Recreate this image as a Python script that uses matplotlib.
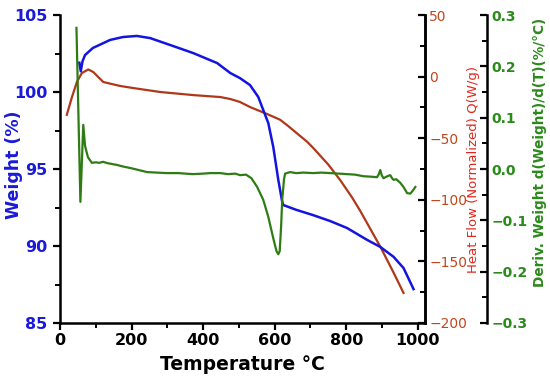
import matplotlib
matplotlib.use("Agg")
import matplotlib.pyplot as plt
from matplotlib.ticker import MultipleLocator

# ---- data ----
temp_w = [54, 58, 63, 70, 92, 140, 176, 215, 252, 308, 372, 439, 476, 503, 531,
          554, 568, 582, 596, 610, 621, 624, 660, 708, 755, 802, 858, 895, 932,
          960, 988]
weight = [101.9, 101.35, 102.0, 102.4, 102.86, 103.38, 103.57, 103.64, 103.5,
          103.05, 102.53, 101.88, 101.23, 100.9, 100.45, 99.68, 98.83, 97.99,
          96.43, 94.3, 92.86, 92.66, 92.35, 92.0, 91.62, 91.17, 90.4, 89.94,
          89.3, 88.57, 87.2]

temp_h = [19, 33, 47, 61, 79, 93, 121, 168, 205, 280, 372, 448, 476, 503, 531,
          579, 615, 635, 691, 708, 750, 783, 816, 839, 895, 932, 960]
heat = [-31.0, -17.0, -4.5, 2.9, 5.8, 3.7, -4.4, -7.6, -9.3, -12.5, -15.0,
        -16.6, -18.2, -20.6, -24.7, -30.4, -35.0, -39.5, -53.0, -58.0, -71.5,
        -84.0, -98.0, -109.0, -138.0, -159.0, -175.6]

temp_d = [46, 57, 65, 70, 78, 89, 100, 110, 120, 135, 159, 175, 196, 220, 243,
          270, 299, 330, 372, 400, 420, 448, 470, 490, 503, 520, 535, 551, 568,
          582, 596, 605, 610, 614, 618, 621, 626, 629, 643, 660, 680, 708, 730,
          755, 780, 802, 825, 847, 870, 886, 891, 895, 899, 904, 915, 923, 928,
          932, 940, 951, 960, 970, 979, 986, 993]
deriv = [0.275, -0.064, 0.086, 0.045, 0.023, 0.012, 0.013, 0.012, 0.014, 0.011,
         0.008, 0.005, 0.002, -0.002, -0.006, -0.007, -0.008, -0.008, -0.010,
         -0.009, -0.008, -0.008, -0.010, -0.009, -0.012, -0.011, -0.018, -0.035,
         -0.060, -0.093, -0.135, -0.160, -0.166, -0.160, -0.110, -0.060, -0.020,
         -0.009, -0.006, -0.008, -0.007, -0.008, -0.007, -0.008, -0.009, -0.010,
         -0.011, -0.014, -0.015, -0.016, -0.010, -0.002, -0.012, -0.018, -0.014,
         -0.012, -0.018, -0.021, -0.020, -0.027, -0.035, -0.047, -0.048, -0.042,
         -0.035]

x_ticks = [0, 200, 400, 600, 800, 1000]
w_ticks = [85, 90, 95, 100, 105]
h_ticks = [-200, -150, -100, -50, 0, 50]
d_ticks = [-0.3, -0.2, -0.1, 0.0, 0.1, 0.2, 0.3]

BLUE = "#1414e0"
BROWN = "#b0381a"
GREEN = "#2e7d14"
BLUE_T = "#1a1ad8"
BROWN_T = "#c0461c"
RED_L = "#e0281e"
GREEN_T = "#2a8a1a"

plt.rcParams['font.family'] = ['DejaVu Sans']

fig = plt.figure(figsize=(5.5, 3.78), dpi=100)
ax = fig.add_axes([60 / 550, 1 - 323 / 378, 365 / 550, 308 / 378])
ax2 = ax.twinx()
ax3 = ax.twinx()
ax3.spines['right'].set_position(('axes', 1 + 62 / 365))

ax2.set_zorder(1)
ax.set_zorder(2)
ax3.set_zorder(3)
for a in (ax, ax2, ax3):
    a.patch.set_visible(False)

ax2.plot(temp_h, heat, color=BROWN, lw=1.6)
ax.plot(temp_w, weight, color=BLUE, lw=1.8)
ax3.plot(temp_d, deriv, color=GREEN, lw=1.6)

ax.set_xlim(0, 1020)
ax.set_ylim(85, 105)
ax2.set_ylim(-200, 50)
ax3.set_ylim(-0.3, 0.3)

ax.set_xticks(x_ticks)
ax.set_yticks(w_ticks)
ax2.set_yticks(h_ticks)
ax3.set_yticks(d_ticks)
ax.xaxis.set_minor_locator(MultipleLocator(100))
ax.yaxis.set_minor_locator(MultipleLocator(2.5))
ax2.yaxis.set_minor_locator(MultipleLocator(25))
ax3.yaxis.set_minor_locator(MultipleLocator(0.05))

for a in (ax, ax2, ax3):
    for s in a.spines.values():
        s.set_linewidth(1.8)
for a in (ax, ax2, ax3):
    a.spines['top'].set_visible(False)
ax2.spines['left'].set_visible(False)
ax3.spines['left'].set_visible(False)
ax3.spines['bottom'].set_visible(False)
ax2.spines['bottom'].set_visible(False)

ax.tick_params(axis='both', which='major', direction='out', length=5, width=1.6)
ax.tick_params(axis='both', which='minor', direction='out', length=3.5, width=1.4)
ax.tick_params(axis='y', labelcolor=BLUE_T, labelsize=11.5, pad=4)
ax.tick_params(axis='x', labelsize=11.5, pad=2)
for lab in ax.get_xticklabels() + ax.get_yticklabels():
    lab.set_fontweight('bold')

for a, col in ((ax2, BROWN_T), (ax3, GREEN_T)):
    a.tick_params(axis='y', which='major', direction='in', length=5, width=1.6,
                  labelcolor=col, labelsize=10, pad=3)
    a.tick_params(axis='y', which='minor', direction='in', length=3.5, width=1.4)
for lab in ax3.get_yticklabels():
    lab.set_fontweight('bold')

ax.set_xlabel("Temperature °C", fontsize=13.5, fontweight='bold')
ax.xaxis.set_label_coords((242 - 60) / 365, -(355 - 323) / 308)
ax.set_ylabel("Weight (%)", fontsize=12.5, fontweight='bold', color=BLUE_T)
ax.yaxis.set_label_coords((23 - 60) / 365, (323 - 165) / 308)
ax2.set_ylabel("Heat Flow (Normalized) Q(W/g)", fontsize=9.5, color=RED_L,
               labelpad=0)
ax3.set_ylabel("Deriv. Weight d(Weight)/d(T)(%/°C)", fontsize=9.8,
               fontweight='bold', color=GREEN_T)
ax3.yaxis.set_label_coords((533 - 60) / 365, (323 - 152) / 308)

fig.savefig("out.png", dpi=100)
